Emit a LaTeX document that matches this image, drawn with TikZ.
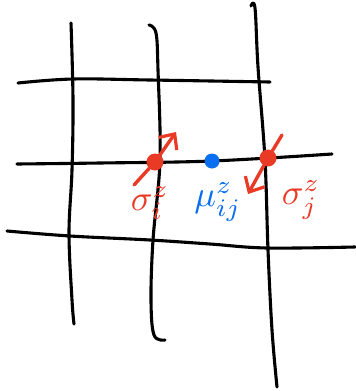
\documentclass[tikz,border=0pt]{standalone}
\usetikzlibrary{arrows.meta}
\definecolor{sred}{RGB}{233,58,38}
\definecolor{sblue}{RGB}{10,110,240}
\tikzset{
  gridline/.style={line width=3.1pt, line cap=round, line join=round, black},
  spinarrow/.style={line width=3.4pt, sred, line cap=round, -{Straight Barb[length=12pt,width=22pt,line width=3.2pt]}},
  reddot/.style={circle, fill=sred, inner sep=0pt, minimum size=17pt},
  bluedot/.style={circle, fill=sblue, inner sep=0pt, minimum size=15pt},
  lab/.style={inner sep=0pt, scale=3.6}
}
\begin{document}
\begin{tikzpicture}[x=1pt,y=-1pt]
\useasboundingbox (0,0) rectangle (356,391);
% vertical lines
\draw[gridline] plot[smooth, tension=0.6] coordinates {(71,23) (73,100) (72,170) (69,233) (72,300) (74,324)};
\draw[gridline] plot[smooth, tension=0.6] coordinates {(149,25) (156,33) (158,70) (160,160) (153,240) (151,300) (154,335) (165,340)};
\draw[gridline] plot[smooth, tension=0.6] coordinates {(251,6) (255,8) (258,67) (265,160) (268,250) (272,330) (277,387)};
% horizontal lines
\draw[gridline] plot[smooth, tension=0.6] coordinates {(18,83) (73,79) (150,80) (270,82)};
\draw[gridline] plot[smooth, tension=0.6] coordinates {(17,164) (100,163) (212,161) (332,154)};
\draw[gridline] plot[smooth, tension=0.6] coordinates {(7,231) (70,236) (150,240) (210,244) (267,248) (355,247)};
% dots
\node[reddot] (si) at (155,162) {};
\node[bluedot] (mu) at (212,161) {};
\node[reddot] (sj) at (268,158) {};
% spin arrows
\coordinate (a1s) at (134,185);
\coordinate (a1e) at (176,132);
\coordinate (a2s) at (282,135);
\coordinate (a2e) at (248,194);
\draw[spinarrow] (a1s) -- (si) -- (a1e);
\draw[spinarrow] (a2s) -- (sj) -- (a2e);
% labels
\node[lab, sred] (lsi) at (150,203) {$\sigma_i^z$};
\node[lab, sblue] (lmu) at (218,202) {$\mu_{ij}^z$};
\node[lab, sred] (lsj) at (301,200) {$\sigma_j^z$};
\end{tikzpicture}
\end{document}
